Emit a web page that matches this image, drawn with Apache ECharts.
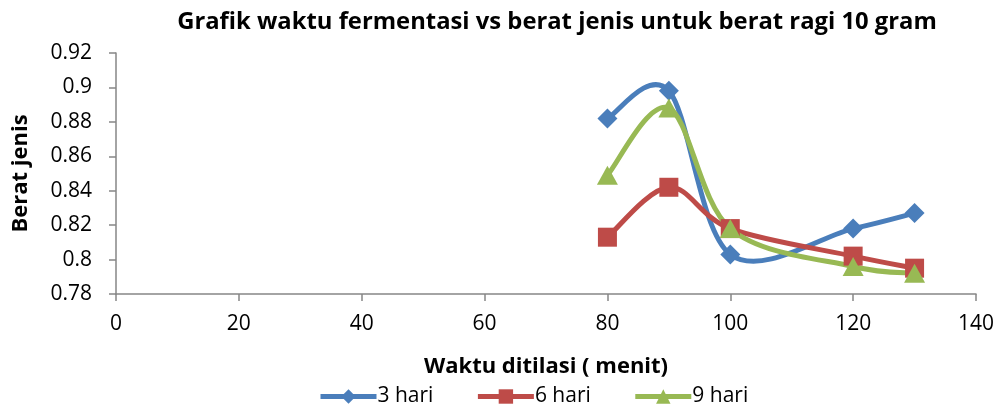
<!DOCTYPE html>
<html><head><meta charset="utf-8">
<script src="https://cdn.jsdelivr.net/npm/echarts@6/dist/echarts.min.js"></script>
<style>html,body{margin:0;padding:0;background:#fff}#c{width:1001px;height:414px}</style>
</head><body><div id="c"></div>
<script>
const xValues = [80, 90, 100, 120, 130];
const seriesNames = ['3 hari', '6 hari', '9 hari'];
const hari3 = [0.882, 0.898, 0.803, 0.818, 0.827];
const hari6 = [0.813, 0.842, 0.818, 0.802, 0.795];
const hari9 = [0.849, 0.888, 0.818, 0.796, 0.792];
const title = 'Grafik waktu fermentasi vs berat jenis untuk berat ragi 10 gram';
const xName = 'Waktu ditilasi ( menit)';
const yName = 'Berat jenis';

const font = '"Open Sans", "Noto Sans", sans-serif';
const colors = ['#4A7EBB', '#BE4B48', '#98B954'];
const symbols = ['diamond', 'rect', 'triangle'];
const sizes = [[20,20],[19,19],[21,19]];
const datas = [hari3, hari6, hari9];

// Excel-like smoothed curve: cubic Bezier segments (Catmull-Rom style) in pixel space
function curveSeries(i) {
  const pts = xValues.map((x, j) => [x, datas[i][j]]);
  return {
    type: 'custom', name: seriesNames[i] + ' curve', z: 2 + i * 0.1,
    data: pts.slice(0, pts.length - 1).map((p, j) => [p[0], p[1], j]),
    encode: {x: 0, y: 1},
    silent: true,
    renderItem: (params, api) => {
      const j = params.dataIndex;
      const P = pts.map(p => api.coord(p));
      const n = P.length;
      const p0 = P[Math.max(j - 1, 0)], p1 = P[j], p2 = P[j + 1], p3 = P[Math.min(j + 2, n - 1)];
      const k = 1 / 6;
      return {
        type: 'bezierCurve',
        shape: {
          x1: p1[0], y1: p1[1], x2: p2[0], y2: p2[1],
          cpx1: p1[0] + (p2[0] - p0[0]) * k, cpy1: p1[1] + (p2[1] - p0[1]) * k,
          cpx2: p2[0] - (p3[0] - p1[0]) * k, cpy2: p2[1] - (p3[1] - p1[1]) * k
        },
        style: {stroke: colors[i], lineWidth: 5, fill: null, lineCap: 'round'}
      };
    }
  };
}

const chart = echarts.init(document.getElementById('c'));
chart.setOption({
  animation: false,
  color: colors,
  title: {
    text: title, left: 552, top: 5, textAlign: 'center',
    textStyle: {fontFamily: font, fontSize: 23.8, fontWeight: 'bold', color: '#000'}
  },
  grid: {left: 116, right: 25, top: 53, bottom: 120, containLabel: false},
  legend: {
    data: seriesNames, bottom: 2, left: 313, itemGap: 42, itemWidth: 56, itemHeight: 18,
    lineStyle: {opacity: 1, width: 5},
    textStyle: {fontFamily: font, fontSize: 21, color: '#000', padding: [0,0,0,-4]}
  },
  xAxis: {
    type: 'value', min: 0, max: 140, interval: 20,
    name: xName, nameLocation: 'middle', nameGap: 62,
    nameTextStyle: {fontFamily: font, fontSize: 22, fontWeight: 'bold', color: '#000'},
    axisLine: {show: true, lineStyle: {color: '#868686', width: 1.5}},
    axisTick: {show: true, length: 7, lineStyle: {color: '#868686', width: 1.5}},
    axisLabel: {fontFamily: font, fontSize: 21, color: '#000', margin: 20},
    splitLine: {show: false}
  },
  yAxis: {
    type: 'value', min: 0.78, max: 0.92, interval: 0.02,
    name: yName, nameLocation: 'middle', nameGap: 84, nameRotate: 90,
    nameTextStyle: {fontFamily: font, fontSize: 22, fontWeight: 'bold', color: '#000'},
    axisLine: {show: true, lineStyle: {color: '#868686', width: 1.5}},
    axisTick: {show: true, length: 7, lineStyle: {color: '#868686', width: 1.5}},
    axisLabel: {fontFamily: font, fontSize: 21, color: '#000', margin: 24,
      formatter: v => String(parseFloat(v.toFixed(2)))},
    splitLine: {show: false}
  },
  series: seriesNames.map((n, i) => ({
    name: n, type: 'line', z: 5 + i * 0.1,
    data: xValues.map((x, j) => [x, datas[i][j]]),
    symbol: symbols[i], symbolSize: sizes[i], showSymbol: true,
    lineStyle: {width: 5, color: colors[i], opacity: 0},
    itemStyle: {color: colors[i]}
  })).concat(seriesNames.map((n, i) => curveSeries(i)))
});
</script></body></html>
